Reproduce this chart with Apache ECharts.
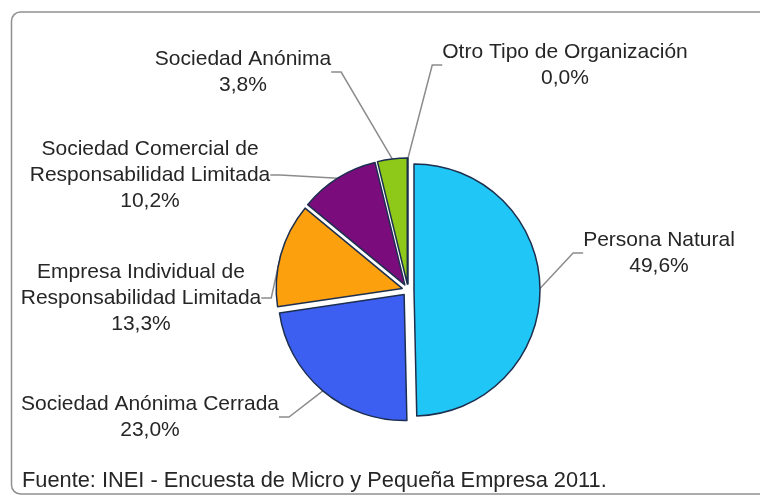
<!DOCTYPE html>
<html>
<head>
<meta charset="utf-8">
<script src="https://cdn.jsdelivr.net/npm/echarts@6/dist/echarts.min.js"></script>
<style>html,body{margin:0;padding:0;background:#fff}#c{width:760px;height:497px}</style>
</head>
<body>
<div id="c"></div>
<script>
var categories = ['Persona Natural', 'Sociedad Anónima Cerrada', 'Empresa Individual de\nResponsabilidad Limitada', 'Sociedad Comercial de\nResponsabilidad Limitada', 'Sociedad Anónima', 'Otro Tipo de Organización'];
var values = [49.6, 23.0, 13.3, 10.2, 3.8, 0.0];
var colors = ['#20c6f5', '#3c5ef1', '#fca00e', '#7a0c7c', '#8ec91a', '#b0302a'];
var labelX = [659, 150, 141, 150, 243, 565];
var labelY = [253, 417, 298, 175, 72, 65];
var footer = 'Fuente: INEI - Encuesta de Micro y Pequeña Empresa 2011.';

var CX = 408, CY = 290, R = 126, OFFSET = 6;
var total = values.reduce(function (a, b) { return a + b; }, 0);

function fmt(p) { return p.name + '\n' + p.value.toFixed(1).replace('.', ',') + '%'; }

var series = [];
var cum = 0;
values.forEach(function (v, i) {
  var mid = (cum + v / 2) / total * 2 * Math.PI;
  cum += v;
  var dx = OFFSET * Math.sin(mid), dy = -OFFSET * Math.cos(mid);
  series.push({
    type: 'pie',
    center: [CX + dx, CY + dy],
    radius: R,
    startAngle: 90,
    clockwise: true,
    silent: true,
    emphasis: {disabled: true},
    label: {
      fontFamily: 'Liberation Sans', fontSize: 21, lineHeight: 26, color: '#262626',
      formatter: fmt
    },
    labelLine: {length: 10, length2: 10, lineStyle: {color: '#8c8c8c', width: 1.5}},
    labelLayout: function (p) {
      return {x: labelX[p.dataIndex], y: labelY[p.dataIndex], align: 'center', verticalAlign: 'middle'};
    },
    data: categories.map(function (c, j) {
      var on = j === i;
      return {
        name: c, value: values[j],
        itemStyle: on ? {color: colors[j], borderColor: '#1d2f4f', borderWidth: 1.5} : {color: 'rgba(0,0,0,0)', borderWidth: 0},
        label: {show: on},
        labelLine: {show: on}
      };
    })
  });
});

var chart = echarts.init(document.getElementById('c'), null, {renderer: 'canvas'});
chart.setOption({
  animation: false,
  title: {text: footer, left: 17, top: 465, textStyle: {fontFamily: 'Liberation Sans', fontSize: 21.8, fontWeight: 'normal', color: '#262626'}},
  graphic: [{type: 'rect', shape: {x: 11.5, y: 12, width: 780, height: 482, r: 9}, style: {fill: 'none', stroke: '#909090', lineWidth: 1.5}, z: -1}],
  series: series
});
</script>
</body>
</html>
